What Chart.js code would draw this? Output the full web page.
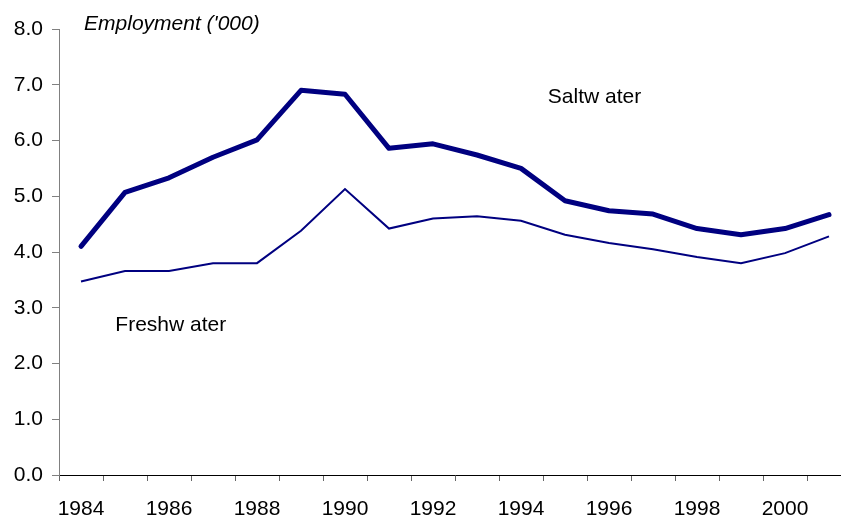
<!DOCTYPE html>
<html>
<head>
<meta charset="utf-8">
<script src="https://cdn.jsdelivr.net/npm/chart.js@4/dist/chart.umd.min.js"></script>
<style>
    html, body { margin: 0; padding: 0; background: #fff; overflow: hidden; }
    canvas { display: block; }
</style>
</head>
<body>
<canvas id="chart" width="870" height="517"></canvas>
<script>
// =====================================
// DATA
// =====================================
const YEARS = ["1984", "1985", "1986", "1987", "1988", "1989", "1990", "1991", "1992",
               "1993", "1994", "1995", "1996", "1997", "1998", "1999", "2000", "2001"];

const SALTWATER = [4.10, 5.07, 5.33, 5.70, 6.01, 6.90, 6.83, 5.86, 5.94,
                   5.74, 5.50, 4.92, 4.74, 4.68, 4.42, 4.31, 4.42, 4.67];

const FRESHWATER = [3.47, 3.66, 3.66, 3.80, 3.80, 4.38, 5.13, 4.42, 4.60,
                    4.64, 4.56, 4.31, 4.16, 4.05, 3.91, 3.80, 3.98, 4.28];

const Y_TICKS = [0, 1, 2, 3, 4, 5, 6, 7, 8];

// =====================================
// CONFIG
// =====================================
const NAVY = "#000080";
const FONT = "'Liberation Sans', Arial, sans-serif";

// text labels, placed in data coordinates (category index, value)
const LABELS = [
    { text: "Employment ('000)", x: 0.07, y: 7.99, italic: true },
    { text: "Saltw ater", x: 10.61, y: 6.67, italic: false },
    { text: "Freshw ater", x: 0.78, y: 2.58, italic: false }
];

const textPlugin = {
    id: "texts",
    afterDraw(chart) {
        const ctx = chart.ctx;
        const xs = chart.scales.x;
        const ys = chart.scales.y;
        ctx.save();
        ctx.fillStyle = "#000";
        ctx.textAlign = "left";
        ctx.textBaseline = "alphabetic";
        LABELS.forEach(l => {
            ctx.font = (l.italic ? "italic " : "") + "21px " + FONT;
            ctx.fillText(l.text, xs.getPixelForValue(l.x), ys.getPixelForValue(l.y));
        });
        ctx.restore();
    }
};

// =====================================
// CHART
// =====================================
const ctx = document.getElementById("chart").getContext("2d");

new Chart(ctx, {
    type: "line",
    data: {
        labels: YEARS,
        datasets: [
            {
                label: "Saltwater",
                data: SALTWATER,
                borderColor: NAVY,
                borderWidth: 5,
                borderCapStyle: "round",
                borderJoinStyle: "round",
                pointRadius: 0,
                tension: 0,
                fill: false
            },
            {
                label: "Freshwater",
                data: FRESHWATER,
                borderColor: NAVY,
                borderWidth: 2,
                pointRadius: 0,
                tension: 0,
                fill: false
            }
        ]
    },
    options: {
        responsive: false,
        animation: false,
        layout: { padding: { top: 29, right: 19, left: 0, bottom: 0 } },
        plugins: {
            legend: { display: false },
            tooltip: { enabled: false }
        },
        scales: {
            x: {
                type: "category",
                offset: true,
                grid: {
                    offset: true,
                    drawOnChartArea: false,
                    drawTicks: true,
                    tickLength: 6,
                    tickColor: "#666"
                },
                border: { color: "#000", width: 1 },
                ticks: {
                    autoSkip: false,
                    maxRotation: 0,
                    padding: 16,
                    color: "#000",
                    font: { family: FONT, size: 21 },
                    callback: (v, i) => (i % 2 === 0 ? YEARS[i] : "")
                },
                afterFit: s => { s.height = 42; }
            },
            y: {
                min: 0,
                max: 8,
                afterBuildTicks: s => { s.ticks = Y_TICKS.map(v => ({ value: v })); },
                grid: {
                    drawOnChartArea: false,
                    drawTicks: true,
                    tickLength: 7,
                    tickColor: "#808080"
                },
                border: { color: "#808080", width: 1 },
                ticks: {
                    padding: 9,
                    color: "#000",
                    font: { family: FONT, size: 21 },
                    callback: v => v.toFixed(1)
                },
                afterFit: s => { s.width = 59; }
            }
        }
    },
    plugins: [textPlugin]
});
</script>
</body>
</html>
